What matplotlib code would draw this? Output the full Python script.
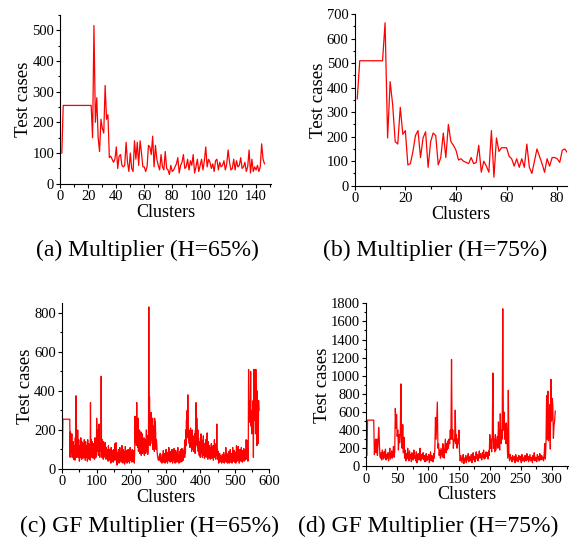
import matplotlib
matplotlib.use("Agg")
import matplotlib.pyplot as plt
from matplotlib.ticker import MultipleLocator
import numpy as np

plt.rcParams['font.family'] = ['Liberation Serif', 'DejaVu Serif']

# (a) Multiplier, H=65%
mult_65 = [100, 255, 255, 255, 255, 255, 255, 255, 255, 255,
           255, 255, 255, 255, 255, 255, 255, 255, 255, 255,
           255, 255, 150, 515, 200, 280, 150, 105, 210, 180,
           165, 320, 210, 225, 85, 90, 80, 70, 80, 120,
           50, 90, 95, 60, 55, 60, 135, 70, 40, 100,
           50, 40, 140, 80, 135, 60, 140, 100, 55, 55,
           40, 55, 125, 120, 95, 155, 55, 125, 80, 60,
           45, 95, 55, 45, 105, 50, 45, 30, 60, 40,
           45, 55, 65, 85, 35, 60, 70, 95, 50, 55,
           80, 45, 75, 60, 95, 35, 55, 80, 40, 60,
           80, 45, 75, 120, 55, 80, 70, 50, 65, 40,
           75, 80, 45, 70, 55, 60, 75, 45, 65, 110,
           70, 45, 50, 80, 45, 75, 55, 60, 85, 50,
           55, 70, 40, 55, 110, 35, 80, 40, 55, 45,
           60, 40, 55, 130, 80, 65]

# (b) Multiplier, H=75%
mult_75 = [355, 510, 510, 510, 510, 510, 510, 510, 510, 510,
           510, 665, 195, 425, 330, 180, 170, 320, 210, 225,
           85, 90, 140, 205, 225, 115, 195, 220, 75, 180,
           215, 205, 85, 115, 215, 115, 250, 180, 165, 145,
           105, 110, 100, 95, 90, 115, 90, 95, 165, 55,
           100, 80, 55, 225, 35, 195, 140, 155, 155, 155,
           120, 110, 80, 110, 75, 110, 75, 170, 75, 50,
           100, 150, 120, 90, 55, 110, 80, 115, 115, 110,
           95, 145, 150, 135, 150]

# (c) GF Multiplier, H=65%
gf_65 = [110, 255, 255, 255, 255, 255, 255, 255, 255, 255,
         255, 255, 255, 255, 255, 255, 255, 255, 255, 255,
         255, 255, 60, 190, 80, 150, 120, 180, 60, 110,
         90, 140, 50, 100, 70, 120, 45, 160, 95, 375,
         110, 60, 130, 80, 200, 60, 95, 150, 70, 40,
         120, 90, 60, 160, 110, 50, 140, 75, 100, 55,
         130, 90, 60, 150, 70, 110, 45, 140, 100, 80,
         60, 120, 40, 150, 90, 65, 130, 50, 110, 75,
         45, 340, 90, 150, 120, 60, 140, 80, 110, 55,
         130, 70, 100, 50, 160, 80, 120, 60, 95, 260,
         150, 90, 200, 120, 70, 140, 230, 100, 60, 130,
         90, 140, 475, 110, 60, 150, 80, 130, 50, 140,
         100, 70, 120, 60, 135, 90, 50, 110, 70, 100,
         60, 90, 40, 120, 75, 55, 100, 45, 85, 60,
         30, 110, 50, 80, 40, 70, 95, 35, 60, 100,
         45, 75, 130, 50, 90, 135, 40, 70, 20, 60,
         85, 40, 100, 55, 30, 75, 110, 45, 60, 90,
         35, 65, 120, 50, 80, 30, 100, 70, 45, 90,
         25, 60, 115, 40, 75, 55, 95, 30, 70, 50,
         100, 40, 85, 60, 30, 75, 110, 45, 90, 55,
         65, 35, 100, 50, 80, 40, 95, 60, 30, 85,
         270, 140, 230, 180, 120, 340, 150, 200, 110, 260,
         90, 160, 120, 200, 80, 150, 110, 190, 70, 130,
         100, 180, 80, 140, 110, 90, 160, 70, 120, 100,
         150, 80, 130, 200, 90, 110, 170, 75, 140, 120,
         830, 160, 370, 220, 120, 250, 180, 290, 150, 200,
         130, 260, 100, 220, 140, 180, 90, 260, 120, 240,
         170, 100, 150, 130, 90, 70, 60, 50, 45, 60,
         50, 70, 45, 80, 40, 60, 35, 55, 30, 75,
         50, 40, 95, 35, 60, 45, 80, 30, 65, 50,
         100, 40, 70, 55, 30, 85, 45, 60, 110, 40,
         75, 50, 35, 90, 55, 70, 40, 100, 50, 30,
         65, 45, 80, 105, 40, 55, 30, 70, 95, 45,
         60, 35, 85, 50, 110, 40, 70, 30, 60, 45,
         90, 55, 100, 35, 75, 50, 105, 40, 60, 80,
         45, 95, 70, 110, 60, 150, 80, 200, 120, 250,
         160, 300, 180, 380, 220, 150, 200, 130, 190, 110,
         170, 210, 120, 190, 90, 150, 200, 100, 170, 130,
         90, 160, 110, 180, 80, 200, 120, 340, 150, 260,
         180, 110, 200, 90, 160, 130, 70, 140, 100, 60,
         120, 180, 80, 150, 100, 60, 140, 90, 170, 70,
         110, 55, 130, 95, 70, 150, 60, 120, 90, 185,
         80, 50, 140, 100, 60, 120, 75, 110, 50, 90,
         70, 130, 55, 95, 80, 60, 120, 45, 100, 70,
         150, 60, 90, 110, 50, 130, 80, 230, 70, 100,
         50, 90, 30, 60, 45, 80, 35, 70, 50, 40,
         65, 30, 55, 75, 40, 60, 35, 85, 45, 30,
         70, 50, 40, 110, 35, 60, 80, 45, 30, 75,
         55, 40, 90, 30, 65, 50, 100, 35, 60, 45,
         80, 30, 55, 110, 40, 70, 50, 95, 35, 60,
         45, 85, 30, 70, 120, 50, 40, 90, 60, 115,
         45, 75, 30, 60, 100, 50, 85, 40, 110, 55,
         70, 35, 95, 50, 60, 105, 40, 80, 55, 45,
         100, 60, 150, 80, 50, 145, 90, 40, 60, 510,
         300, 350, 240, 290, 260, 500, 220, 300, 180, 280,
         250, 200, 350, 60, 510, 300, 510, 250, 400, 180,
         510, 320, 250, 120, 400, 200, 160, 130, 350, 300]

# (d) GF Multiplier, H=75%
gf_75 = [120, 510, 510, 510, 510, 510, 510, 510, 510, 510,
         510, 510, 130, 180, 300, 150, 300, 120, 250, 430,
         300, 110, 90, 150, 70, 180, 120, 80, 160, 100,
         190, 70, 130, 90, 150, 60, 120, 200, 80, 110,
         170, 90, 140, 220, 100, 160, 640, 420, 570, 330,
         400, 180, 350, 260, 350, 910, 300, 200, 460, 150,
         320, 90, 180, 60, 140, 80, 200, 110, 60, 170,
         90, 130, 50, 150, 100, 70, 180, 90, 120, 60,
         160, 40, 110, 140, 70, 90, 200, 60, 130, 80,
         100, 150, 70, 120, 50, 90, 140, 60, 110, 80,
         130, 40, 100, 160, 60, 120, 80, 50, 140, 90,
         200, 540, 300, 520, 710, 200, 250, 120, 180, 90,
         200, 150, 100, 250, 180, 90, 200, 300, 150, 250,
         180, 280, 200, 300, 250, 400, 300, 1180, 300, 400,
         200, 290, 280, 620, 250, 350, 200, 300, 250, 400,
         150, 60, 120, 80, 40, 100, 130, 30, 90, 60,
         120, 40, 100, 70, 140, 50, 110, 80, 60, 130,
         40, 90, 150, 70, 110, 50, 100, 160, 80, 130,
         60, 110, 170, 90, 140, 100, 70, 150, 100, 180,
         80, 130, 90, 160, 110, 150, 80, 170, 120, 350,
         200, 300, 160, 350, 1030, 200, 300, 160, 350, 180,
         250, 330, 200, 490, 300, 180, 580, 250, 400, 300,
         1740, 400, 600, 300, 470, 250, 480, 280, 90, 840,
         120, 60, 130, 80, 100, 50, 120, 70, 90, 110,
         40, 130, 60, 100, 80, 50, 120, 90, 70, 110,
         40, 130, 60, 90, 100, 50, 120, 80, 60, 140,
         70, 110, 50, 90, 130, 60, 100, 80, 40, 120,
         70, 150, 60, 100, 90, 50, 130, 80, 110, 60,
         140, 90, 70, 120, 80, 100, 60, 130, 250, 80,
         250, 780, 300, 830, 280, 400, 680, 190, 960, 500,
         750, 680, 310, 450, 500, 610]

captions = ['(a) Multiplier (H=65%)', '(b) Multiplier (H=75%)',
            '(c) GF Multiplier (H=65%)', '(d) GF Multiplier (H=75%)']

fig = plt.figure(figsize=(5.81, 5.47), dpi=100)

# axes boxes in figure fraction: left, bottom, width, height
boxes = [[0.104, 0.664, 0.362, 0.309],
         [0.6105, 0.6605, 0.366, 0.3135],
         [0.107, 0.1426, 0.3565, 0.3034],
         [0.6305, 0.1475, 0.3475, 0.298]]
series = [mult_65, mult_75, gf_65, gf_75]
xlims = [(0, 150.5), (0, 84), (0, 600), (0, 327)]
ylims = [(0, 550), (0, 700), (0, 850), (0, 1800)]
xmaj = [20, 20, 100, 50]
ymaj = [100, 100, 200, 200]
cap_pos = [(0.253, 0.543), (0.749, 0.543), (0.258, 0.037), (0.737, 0.037)]

for i in range(4):
    ax = fig.add_axes(boxes[i])
    y = series[i]
    x = np.arange(1, len(y) + 1)
    ax.plot(x, y, color='red', lw=0.9)
    ax.set_xlim(*xlims[i])
    ax.set_ylim(*ylims[i])
    ax.xaxis.set_major_locator(MultipleLocator(xmaj[i]))
    ax.xaxis.set_minor_locator(MultipleLocator(xmaj[i] / 2))
    ax.yaxis.set_major_locator(MultipleLocator(ymaj[i]))
    ax.yaxis.set_minor_locator(MultipleLocator(ymaj[i] / 2))
    ax.spines['top'].set_visible(False)
    ax.spines['right'].set_visible(False)
    ax.tick_params(which='major', direction='out', length=3, width=0.8, labelsize=10.5, pad=1.5)
    ax.tick_params(which='minor', direction='out', length=1.8, width=0.8)
    ax.set_xlabel('Clusters', fontsize=13, labelpad=0.5)
    ax.set_ylabel('Test cases', fontsize=13.5, labelpad=0)
    fig.text(cap_pos[i][0], cap_pos[i][1], captions[i], fontsize=17,
             ha='center', va='center')

fig.savefig('out.png', dpi=100)
